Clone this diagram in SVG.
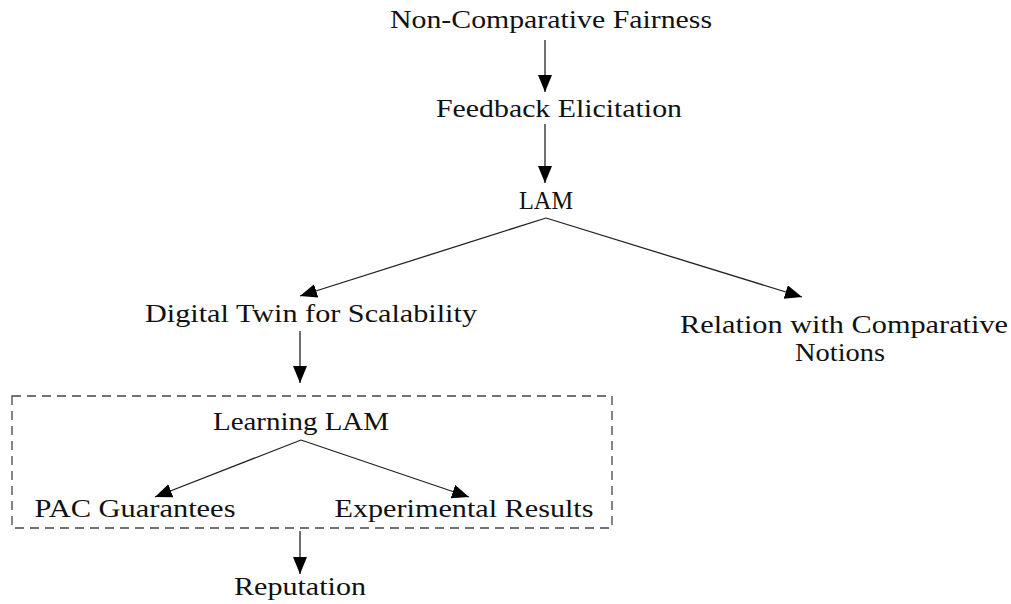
<svg xmlns="http://www.w3.org/2000/svg" width="1011" height="604" viewBox="0 0 1011 604">
<style>
text{font-family:"Liberation Serif","DejaVu Serif",serif;font-size:26px;fill:#111;text-anchor:middle}
.e{stroke:#222;stroke-width:1.3;fill:none}
</style>
<defs>
<marker id="ah" markerUnits="userSpaceOnUse" markerWidth="18" markerHeight="16" refX="17" refY="7" orient="auto"><path d="M0,0 L17,7 L0,14 Z" fill="#000"/></marker>
</defs>
<rect width="1011" height="604" fill="#fff"/>
<g id="connectors">
<line class="e" x1="545" y1="40" x2="545" y2="92" marker-end="url(#ah)"/>
<line class="e" x1="545" y1="124" x2="545" y2="183" marker-end="url(#ah)"/>
<line class="e" x1="546" y1="218" x2="300" y2="296" marker-end="url(#ah)"/>
<line class="e" x1="546" y1="218" x2="802" y2="297" marker-end="url(#ah)"/>
<line class="e" x1="300" y1="331" x2="300" y2="383" marker-end="url(#ah)"/>
<line class="e" x1="301" y1="440" x2="155" y2="497" marker-end="url(#ah)"/>
<line class="e" x1="301" y1="440" x2="469" y2="497" marker-end="url(#ah)"/>
<line class="e" x1="300" y1="531" x2="300" y2="574" marker-end="url(#ah)"/>
</g>
<g id="group-box"><rect x="12" y="396" width="600" height="132" fill="none" stroke="#444" stroke-width="1.3" stroke-dasharray="9,6"/></g>
<g id="n1"><text x="551" y="28" textLength="322" lengthAdjust="spacingAndGlyphs">Non-Comparative Fairness</text></g>
<g id="n2"><text x="559" y="117" textLength="246" lengthAdjust="spacingAndGlyphs">Feedback Elicitation</text></g>
<g id="n3"><text x="546" y="209" textLength="54" lengthAdjust="spacingAndGlyphs">LAM</text></g>
<g id="n4"><text x="311" y="322" textLength="332" lengthAdjust="spacingAndGlyphs">Digital Twin for Scalability</text></g>
<g id="n5"><text x="844" y="333" textLength="328" lengthAdjust="spacingAndGlyphs">Relation with Comparative</text><text x="840" y="361" textLength="90" lengthAdjust="spacingAndGlyphs">Notions</text></g>
<g id="n6"><text x="301" y="430" textLength="176" lengthAdjust="spacingAndGlyphs">Learning LAM</text></g>
<g id="n7"><text x="135" y="517" textLength="201" lengthAdjust="spacingAndGlyphs">PAC Guarantees</text></g>
<g id="n8"><text x="464" y="517" textLength="259" lengthAdjust="spacingAndGlyphs">Experimental Results</text></g>
<g id="n9"><text x="300" y="595" textLength="132" lengthAdjust="spacingAndGlyphs">Reputation</text></g>
</svg>
